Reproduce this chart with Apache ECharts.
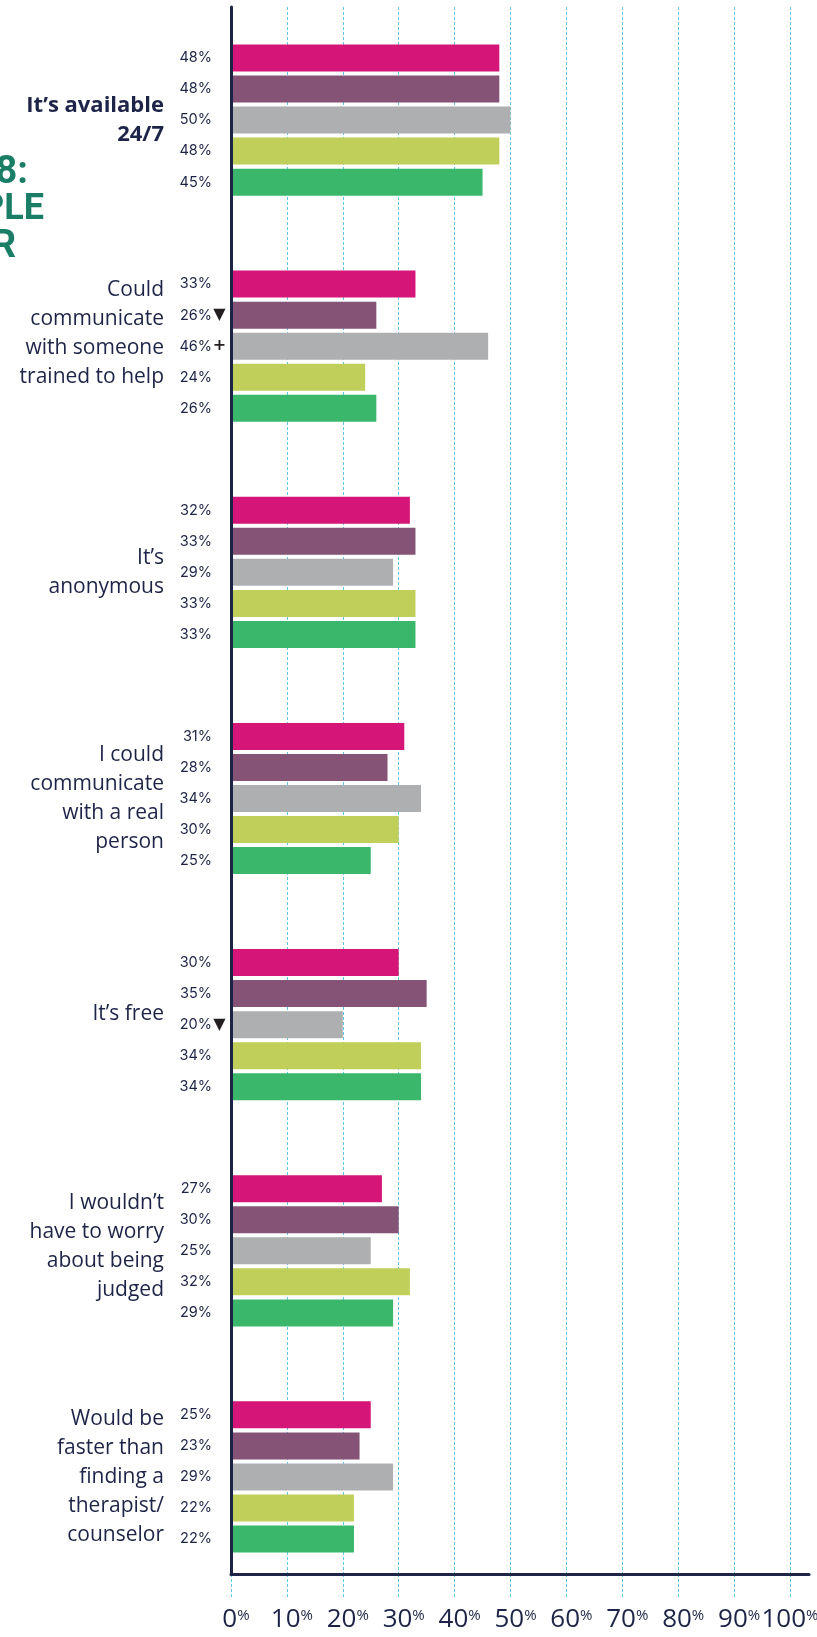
<!DOCTYPE html>
<html>
<head>
<meta charset="utf-8">
<script src="https://cdn.jsdelivr.net/npm/echarts@6/dist/echarts.min.js"></script>
<style>
  html, body { margin: 0; padding: 0; background: #ffffff; }
  #chart { width: 817px; height: 1637px; }
</style>
</head>
<body>
<div id="chart"></div>
<script>
// Reasons, top to bottom (first one highlighted in bold)
const categories = [
  'It’s available\n24/7',
  'Could\ncommunicate\nwith someone\ntrained to help',
  'It’s\nanonymous',
  'I could\ncommunicate\nwith a real\nperson',
  'It’s free',
  'I wouldn’t\nhave to worry\nabout being\njudged',
  'Would be\nfaster than\nfinding a\ntherapist/\ncounselor'
];

// Percentages per group, one array per bar colour
const valuesMagenta = [48, 33, 32, 31, 30, 27, 25];
const valuesPurple  = [48, 26, 33, 28, 35, 30, 23];
const valuesGray    = [50, 46, 29, 34, 20, 25, 29];
const valuesLime    = [48, 24, 33, 30, 34, 32, 22];
const valuesGreen   = [45, 26, 33, 25, 34, 29, 22];

// Significance markers drawn after some value labels
const marksMagenta = ['', '', '', '', '', '', ''];
const marksPurple  = ['', '▼', '', '', '', '', ''];
const marksGray    = ['', '+', '', '', '▼', '', ''];
const marksLime    = ['', '', '', '', '', '', ''];
const marksGreen   = ['', '', '', '', '', '', ''];

// Value axis ticks
const axisMin = 0;
const axisMax = 100;
const axisStep = 10;

const NAVY = '#1e2448';
const GRID_BLUE = '#5cc6e6';
const TEAL = '#1a7d66';
const LABEL_FONT = '"Open Sans", "Noto Sans", sans-serif';

const seriesDefs = [
  { name: 'Group 1', color: '#d51577', values: valuesMagenta, marks: marksMagenta },
  { name: 'Group 2', color: '#855376', values: valuesPurple,  marks: marksPurple },
  { name: 'Group 3', color: '#aeafb1', values: valuesGray,    marks: marksGray },
  { name: 'Group 4', color: '#bfcf5a', values: valuesLime,    marks: marksLime },
  { name: 'Group 5', color: '#3bb76c', values: valuesGreen,   marks: marksGreen }
];

// Small upward nudges (px) for a few category labels
const labelLift = { 1: 26, 4: 22, 5: 8 };

const chart = echarts.init(document.getElementById('chart'), null, { renderer: 'canvas' });

const LEFT = 231, RIGHT = 27;

const option = {
  backgroundColor: '#ffffff',
  animation: false,
  textStyle: { fontFamily: LABEL_FONT, color: NAVY },
  grid: [
    // bars
    { left: LEFT, right: RIGHT, top: 7, bottom: 47, outerBoundsMode: 'none' },
    // frame: grid lines, tick labels, vertical axis line
    { left: LEFT, right: RIGHT, top: 7, bottom: 63, outerBoundsMode: 'none' },
    // long horizontal baseline
    { left: LEFT, right: 8, top: 7, bottom: 63, outerBoundsMode: 'none' }
  ],
  xAxis: [
    {
      gridIndex: 0, type: 'value', min: axisMin, max: axisMax, interval: axisStep,
      axisLine: { show: false }, axisTick: { show: false },
      axisLabel: { show: false }, splitLine: { show: false }
    },
    {
      gridIndex: 1, type: 'value', min: axisMin, max: axisMax, interval: axisStep,
      axisLine: { show: false },
      axisTick: { show: true, length: 23, lineStyle: { color: GRID_BLUE, width: 1, type: [3, 2] } },
      splitLine: { show: true, lineStyle: { color: GRID_BLUE, width: 1, type: [3, 2] } },
      axisLabel: {
        show: true, margin: 32, fontSize: 26,
        formatter: v => v < axisMax ? `{n|${v}}{p|%}` : `{w|${v}}{p|%}`,
        rich: {
          n: { fontSize: 26, lineHeight: 27, color: NAVY, fontFamily: LABEL_FONT, padding: [0, 0, 0, 10] },
          w: { fontSize: 26, lineHeight: 27, color: NAVY, fontFamily: LABEL_FONT },
          p: { fontSize: 15, lineHeight: 27, color: NAVY, fontFamily: LABEL_FONT, verticalAlign: 'top', padding: [2, 0, 0, 0] }
        }
      }
    },
    {
      gridIndex: 2, type: 'value', min: 0, max: 1, z: 10,
      axisLine: { show: true, lineStyle: { color: NAVY, width: 3 } },
      axisTick: { show: false }, axisLabel: { show: false }, splitLine: { show: false }
    }
  ],
  yAxis: [
    {
      gridIndex: 0, type: 'category', inverse: true,
      data: categories.map((c, i) => labelLift[i]
        ? { value: c, textStyle: { padding: [0, 0, labelLift[i], 0] } }
        : c),
      axisLine: { show: false }, axisTick: { show: false }, splitLine: { show: false },
      axisLabel: {
        show: true, margin: 67, align: 'right',
        fontSize: 21, lineHeight: 29, color: NAVY, fontFamily: LABEL_FONT,
        formatter: (value, idx) => idx === 0
          ? value.split('\n').map(l => `{b|${l}}`).join('\n')
          : value,
        rich: {
          b: { fontSize: 22, lineHeight: 29, fontWeight: 'bold', color: NAVY, fontFamily: LABEL_FONT, align: 'right' }
        }
      }
    },
    {
      gridIndex: 1, type: 'value', z: 10,
      axisLine: { show: true, onZero: false, lineStyle: { color: NAVY, width: 3 } },
      axisTick: { show: false }, axisLabel: { show: false }, splitLine: { show: false }
    },
    {
      gridIndex: 2, type: 'value', show: false
    }
  ],
  // Heading running in from the left edge of the page
  graphic: [
    { type: 'text', x: 28, y: 173, style: { text: '8:', align: 'right', verticalAlign: 'middle', fill: TEAL, font: 'bold 38px Roboto' } },
    { type: 'text', x: 44, y: 210, style: { text: 'PLE', align: 'right', verticalAlign: 'middle', fill: TEAL, font: 'bold 36px Roboto' } },
    { type: 'text', x: 16, y: 247, style: { text: 'R', align: 'right', verticalAlign: 'middle', fill: TEAL, font: 'bold 38px Roboto' } }
  ],
  series: seriesDefs.map(s => ({
    name: s.name,
    type: 'bar',
    xAxisIndex: 0,
    yAxisIndex: 0,
    data: s.values,
    barWidth: 27,
    barGap: '15%',
    itemStyle: { color: s.color },
    label: {
      show: true,
      position: [-4, '50%'],
      align: 'right',
      verticalAlign: 'middle',
      formatter: p => `{v|${p.value}%}{m|${s.marks[p.dataIndex] || ' '}}`,
      rich: {
        v: { fontSize: 14.5, color: NAVY, fontFamily: 'Inter' },
        m: { width: 15, align: 'center', fontSize: 16, color: '#231f20', fontFamily: 'DejaVu Sans', fontWeight: 'bold' }
      }
    }
  }))
};

chart.setOption(option);
</script>
</body>
</html>
